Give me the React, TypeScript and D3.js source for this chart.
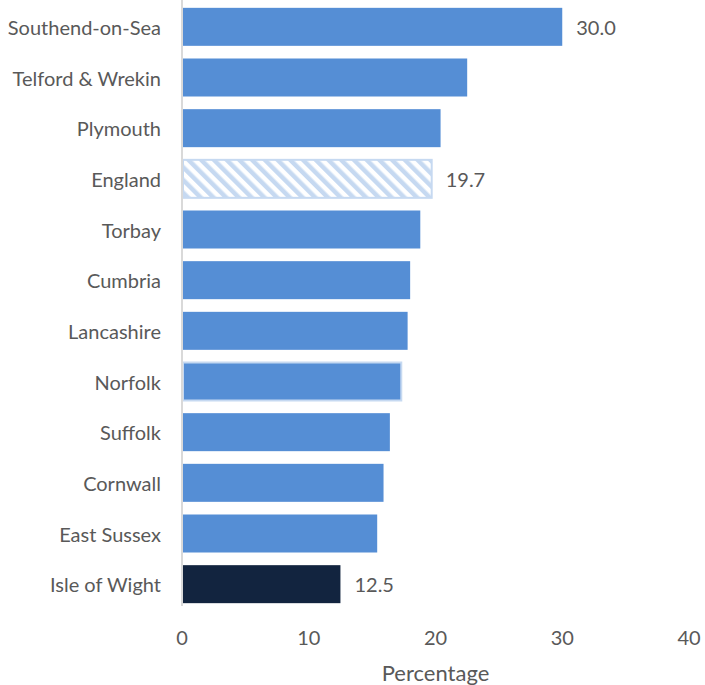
import React from "react";
import * as d3 from "d3";

const categories = [
  "Southend-on-Sea",
  "Telford & Wrekin",
  "Plymouth",
  "England",
  "Torbay",
  "Cumbria",
  "Lancashire",
  "Norfolk",
  "Suffolk",
  "Cornwall",
  "East Sussex",
  "Isle of Wight",
];
const values = [30.0, 22.5, 20.4, 19.7, 18.8, 18.0, 17.8, 17.3, 16.4, 15.9, 15.4, 12.5];
const labelled = ["Southend-on-Sea", "England", "Isle of Wight"];
const xTicks = [0, 10, 20, 30, 40];
const xTitle = "Percentage";

const W = 705;
const H = 685;
const FONT = "Lato, 'Open Sans', sans-serif";

export default function App() {
  const x = d3.scaleLinear().domain([0, 40]).range([182, 689]);
  const y = d3
    .scaleBand<string>()
    .domain(categories)
    .range([1.5, 609.5])
    .paddingInner(0.25)
    .paddingOuter(0.125);
  const bw = y.bandwidth();

  return (
    <svg
      width={W}
      height={H}
      style={{ position: "absolute", left: 0, top: 0 }}
      fontFamily={FONT}
    >
      <defs>
        <pattern
          id="hatch"
          patternUnits="userSpaceOnUse"
          width={9}
          height={9}
          patternTransform="rotate(-45)"
        >
          <rect width={9} height={9} fill="#ffffff" />
          <rect width={4.5} height={9} fill="#c6d9f1" />
        </pattern>
      </defs>
      <rect width={W} height={H} fill="#ffffff" />
      {categories.map((c, i) => {
        const v = values[i];
        const y0 = y(c)!;
        const x1 = x(v);
        let fill = "#558ed5";
        let stroke = "none";
        let sw = 0;
        if (c === "England") {
          fill = "url(#hatch)";
          stroke = "#c6d9f1";
          sw = 2;
        } else if (c === "Norfolk") {
          stroke = "#c6d9f1";
          sw = 2;
        } else if (c === "Isle of Wight") {
          fill = "#12243f";
        }
        return (
          <g key={c}>
            <rect
              x={x(0) + 1}
              y={y0}
              width={x1 - x(0) - 1}
              height={bw}
              fill={fill}
              stroke={stroke}
              strokeWidth={sw}
            />
            <text
              x={161}
              y={y0 + bw / 2}
              textAnchor="end"
              dominantBaseline="central"
              fontSize={20}
              fill="#595959"
            >
              {c}
            </text>
            {labelled.includes(c) && (
              <text
                x={x1 + 14}
                y={y0 + bw / 2}
                dominantBaseline="central"
                fontSize={20}
                fill="#595959"
              >
                {v.toFixed(1)}
              </text>
            )}
          </g>
        );
      })}
      <line x1={x(0)} x2={x(0)} y1={0} y2={606} stroke="#d9d9d9" strokeWidth={2} />
      {xTicks.map((t) => (
        <text
          key={t}
          x={x(t)}
          y={637}
          textAnchor="middle"
          dominantBaseline="central"
          fontSize={20}
          fill="#595959"
        >
          {t}
        </text>
      ))}
      <text
        x={(x(0) + x(40)) / 2}
        y={672}
        textAnchor="middle"
        dominantBaseline="central"
        fontSize={22}
        fill="#595959"
      >
        {xTitle}
      </text>
    </svg>
  );
}
